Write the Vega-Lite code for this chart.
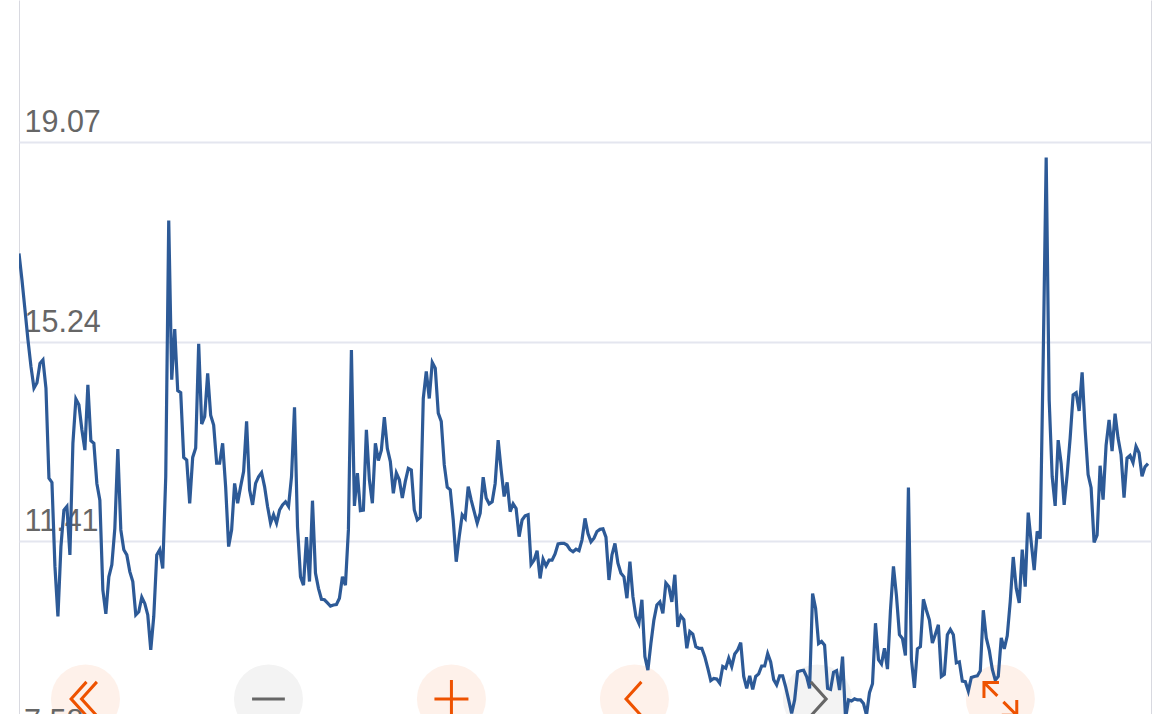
{"$schema":"https://vega.github.io/schema/vega-lite/v6.json","width":1132,"height":714,"autosize":{"type":"none"},"padding":{"left":19,"top":0,"right":19,"bottom":0},"background":"#ffffff","view":{"stroke":null},
"datasets":{"series":[{"t":0,"v":16.93},{"t":1,"v":16.42},{"t":2,"v":15.85},{"t":3,"v":15.27},{"t":4,"v":14.76},{"t":5,"v":14.35},{"t":6,"v":14.45},{"t":7,"v":14.82},{"t":8,"v":14.89},{"t":9,"v":14.35},{"t":10,"v":12.62},{"t":11,"v":12.54},{"t":12,"v":10.93},{"t":13,"v":9.97},{"t":14,"v":11.31},{"t":15,"v":12.01},{"t":16,"v":12.08},{"t":17,"v":11.15},{"t":18,"v":13.29},{"t":19,"v":14.14},{"t":20,"v":14.03},{"t":21,"v":13.55},{"t":22,"v":13.16},{"t":23,"v":14.41},{"t":24,"v":13.34},{"t":25,"v":13.29},{"t":26,"v":12.52},{"t":27,"v":12.2},{"t":28,"v":10.48},{"t":29,"v":10.02},{"t":30,"v":10.73},{"t":31,"v":10.96},{"t":32,"v":11.66},{"t":33,"v":13.18},{"t":34,"v":11.63},{"t":35,"v":11.25},{"t":36,"v":11.15},{"t":37,"v":10.83},{"t":38,"v":10.64},{"t":39,"v":10.0},{"t":40,"v":10.06},{"t":41,"v":10.34},{"t":42,"v":10.22},{"t":43,"v":10.0},{"t":44,"v":9.33},{"t":45,"v":9.97},{"t":46,"v":11.15},{"t":47,"v":11.25},{"t":48,"v":10.89},{"t":49,"v":12.65},{"t":50,"v":17.56},{"t":51,"v":14.51},{"t":52,"v":15.48},{"t":53,"v":14.3},{"t":54,"v":14.26},{"t":55,"v":13.02},{"t":56,"v":12.97},{"t":57,"v":12.14},{"t":58,"v":13.02},{"t":59,"v":13.2},{"t":60,"v":15.2},{"t":61,"v":13.66},{"t":62,"v":13.8},{"t":63,"v":14.63},{"t":64,"v":13.83},{"t":65,"v":13.64},{"t":66,"v":12.91},{"t":67,"v":12.91},{"t":68,"v":13.29},{"t":69,"v":12.46},{"t":70,"v":11.31},{"t":71,"v":11.63},{"t":72,"v":12.52},{"t":73,"v":12.14},{"t":74,"v":12.46},{"t":75,"v":12.75},{"t":76,"v":13.71},{"t":77,"v":12.4},{"t":78,"v":12.11},{"t":79,"v":12.52},{"t":80,"v":12.65},{"t":81,"v":12.73},{"t":82,"v":12.46},{"t":83,"v":12.08},{"t":84,"v":11.76},{"t":85,"v":11.92},{"t":86,"v":11.76},{"t":87,"v":12.01},{"t":88,"v":12.11},{"t":89,"v":12.17},{"t":90,"v":12.08},{"t":91,"v":12.65},{"t":92,"v":13.98},{"t":93,"v":11.69},{"t":94,"v":10.73},{"t":95,"v":10.57},{"t":96,"v":11.49},{"t":97,"v":10.64},{"t":98,"v":12.19},{"t":99,"v":10.8},{"t":100,"v":10.51},{"t":101,"v":10.3},{"t":102,"v":10.29},{"t":103,"v":10.23},{"t":104,"v":10.17},{"t":105,"v":10.19},{"t":106,"v":10.2},{"t":107,"v":10.32},{"t":108,"v":10.73},{"t":109,"v":10.57},{"t":110,"v":11.63},{"t":111,"v":15.08},{"t":112,"v":12.09},{"t":113,"v":12.72},{"t":114,"v":12.0},{"t":115,"v":12.01},{"t":116,"v":13.55},{"t":117,"v":12.59},{"t":118,"v":12.14},{"t":119,"v":13.29},{"t":120,"v":12.96},{"t":121,"v":13.16},{"t":122,"v":13.79},{"t":123,"v":13.19},{"t":124,"v":12.94},{"t":125,"v":12.33},{"t":126,"v":12.72},{"t":127,"v":12.59},{"t":128,"v":12.24},{"t":129,"v":12.56},{"t":130,"v":12.81},{"t":131,"v":12.78},{"t":132,"v":12.01},{"t":133,"v":11.82},{"t":134,"v":11.87},{"t":135,"v":14.15},{"t":136,"v":14.67},{"t":137,"v":14.15},{"t":138,"v":14.84},{"t":139,"v":14.73},{"t":140,"v":13.87},{"t":141,"v":13.71},{"t":142,"v":12.88},{"t":143,"v":12.45},{"t":144,"v":12.4},{"t":145,"v":11.82},{"t":146,"v":11.02},{"t":147,"v":11.5},{"t":148,"v":11.92},{"t":149,"v":11.85},{"t":150,"v":12.46},{"t":151,"v":12.2},{"t":152,"v":11.98},{"t":153,"v":11.76},{"t":154,"v":11.95},{"t":155,"v":12.64},{"t":156,"v":12.24},{"t":157,"v":12.13},{"t":158,"v":12.17},{"t":159,"v":12.52},{"t":160,"v":13.35},{"t":161,"v":12.78},{"t":162,"v":12.27},{"t":163,"v":12.54},{"t":164,"v":11.98},{"t":165,"v":12.13},{"t":166,"v":12.04},{"t":167,"v":11.5},{"t":168,"v":11.82},{"t":169,"v":11.9},{"t":170,"v":11.92},{"t":171,"v":10.97},{"t":172,"v":11.05},{"t":173,"v":11.23},{"t":174,"v":10.7},{"t":175,"v":11.07},{"t":176,"v":10.94},{"t":177,"v":11.05},{"t":178,"v":11.05},{"t":179,"v":11.17},{"t":180,"v":11.36},{"t":181,"v":11.37},{"t":182,"v":11.37},{"t":183,"v":11.34},{"t":184,"v":11.25},{"t":185,"v":11.21},{"t":186,"v":11.26},{"t":187,"v":11.23},{"t":188,"v":11.44},{"t":189,"v":11.85},{"t":190,"v":11.56},{"t":191,"v":11.4},{"t":192,"v":11.47},{"t":193,"v":11.6},{"t":194,"v":11.64},{"t":195,"v":11.65},{"t":196,"v":11.49},{"t":197,"v":10.67},{"t":198,"v":11.15},{"t":199,"v":11.37},{"t":200,"v":10.99},{"t":201,"v":10.8},{"t":202,"v":10.73},{"t":203,"v":10.32},{"t":204,"v":11.02},{"t":205,"v":10.35},{"t":206,"v":9.97},{"t":207,"v":9.84},{"t":208,"v":10.29},{"t":209,"v":9.2},{"t":210,"v":8.94},{"t":211,"v":9.45},{"t":212,"v":9.9},{"t":213,"v":10.19},{"t":214,"v":10.25},{"t":215,"v":10.03},{"t":216,"v":10.61},{"t":217,"v":10.54},{"t":218,"v":10.25},{"t":219,"v":10.77},{"t":220,"v":9.77},{"t":221,"v":9.98},{"t":222,"v":9.91},{"t":223,"v":9.36},{"t":224,"v":9.68},{"t":225,"v":9.63},{"t":226,"v":9.39},{"t":227,"v":9.36},{"t":228,"v":9.36},{"t":229,"v":9.2},{"t":230,"v":8.98},{"t":231,"v":8.74},{"t":232,"v":8.78},{"t":233,"v":8.77},{"t":234,"v":8.69},{"t":235,"v":9.01},{"t":236,"v":8.98},{"t":237,"v":9.17},{"t":238,"v":9.01},{"t":239,"v":9.25},{"t":240,"v":9.33},{"t":241,"v":9.47},{"t":242,"v":8.82},{"t":243,"v":8.59},{"t":244,"v":8.83},{"t":245,"v":8.57},{"t":246,"v":8.82},{"t":247,"v":8.87},{"t":248,"v":9.02},{"t":249,"v":9.02},{"t":250,"v":9.26},{"t":251,"v":9.1},{"t":252,"v":8.76},{"t":253,"v":8.66},{"t":254,"v":8.83},{"t":255,"v":8.83},{"t":256,"v":8.62},{"t":257,"v":8.37},{"t":258,"v":8.11},{"t":259,"v":8.37},{"t":260,"v":8.91},{"t":261,"v":8.93},{"t":262,"v":8.94},{"t":263,"v":8.82},{"t":264,"v":8.59},{"t":265,"v":10.41},{"t":266,"v":10.13},{"t":267,"v":9.45},{"t":268,"v":9.49},{"t":269,"v":9.42},{"t":270,"v":8.59},{"t":271,"v":8.57},{"t":272,"v":8.9},{"t":273,"v":8.93},{"t":274,"v":8.56},{"t":275,"v":9.2},{"t":276,"v":8.02},{"t":277,"v":8.37},{"t":278,"v":8.35},{"t":279,"v":8.39},{"t":280,"v":8.37},{"t":281,"v":8.37},{"t":282,"v":8.3},{"t":283,"v":8.08},{"t":284,"v":8.51},{"t":285,"v":8.68},{"t":286,"v":9.84},{"t":287,"v":9.14},{"t":288,"v":9.06},{"t":289,"v":9.36},{"t":290,"v":8.96},{"t":291,"v":10.09},{"t":292,"v":10.93},{"t":293,"v":10.37},{"t":294,"v":9.62},{"t":295,"v":9.55},{"t":296,"v":9.22},{"t":297,"v":12.44},{"t":298,"v":9.14},{"t":299,"v":8.6},{"t":300,"v":9.35},{"t":301,"v":9.39},{"t":302,"v":10.3},{"t":303,"v":10.09},{"t":304,"v":9.9},{"t":305,"v":9.46},{"t":306,"v":9.63},{"t":307,"v":9.81},{"t":308,"v":8.82},{"t":309,"v":8.86},{"t":310,"v":9.62},{"t":311,"v":9.72},{"t":312,"v":9.62},{"t":313,"v":9.08},{"t":314,"v":9.1},{"t":315,"v":8.73},{"t":316,"v":8.72},{"t":317,"v":8.54},{"t":318,"v":8.8},{"t":319,"v":8.82},{"t":320,"v":8.83},{"t":321,"v":8.93},{"t":322,"v":10.09},{"t":323,"v":9.56},{"t":324,"v":9.32},{"t":325,"v":8.96},{"t":326,"v":8.75},{"t":327,"v":8.82},{"t":328,"v":9.56},{"t":329,"v":9.35},{"t":330,"v":9.6},{"t":331,"v":10.26},{"t":332,"v":11.11},{"t":333,"v":10.51},{"t":334,"v":10.23},{"t":335,"v":11.25},{"t":336,"v":10.54},{"t":337,"v":11.96},{"t":338,"v":11.39},{"t":339,"v":10.86},{"t":340,"v":11.6},{"t":341,"v":11.46},{"t":342,"v":14.9},{"t":343,"v":18.77},{"t":344,"v":14.12},{"t":345,"v":12.65},{"t":346,"v":12.09},{"t":347,"v":13.35},{"t":348,"v":12.9},{"t":349,"v":12.11},{"t":350,"v":12.69},{"t":351,"v":13.39},{"t":352,"v":14.22},{"t":353,"v":14.26},{"t":354,"v":13.91},{"t":355,"v":14.65},{"t":356,"v":13.56},{"t":357,"v":12.69},{"t":358,"v":12.44},{"t":359,"v":11.39},{"t":360,"v":11.53},{"t":361,"v":12.86},{"t":362,"v":12.21},{"t":363,"v":13.25},{"t":364,"v":13.74},{"t":365,"v":13.14},{"t":366,"v":13.86},{"t":367,"v":13.39},{"t":368,"v":13.07},{"t":369,"v":12.25},{"t":370,"v":13.01},{"t":371,"v":13.06},{"t":372,"v":12.92},{"t":373,"v":13.23},{"t":374,"v":13.11},{"t":375,"v":12.66},{"t":376,"v":12.84},{"t":377,"v":12.9}],
"buttons":[{"button":"first","t":22.2,"v":8.39},{"button":"minus","t":83.3,"v":8.39},{"button":"plus","t":144.4,"v":8.39},{"button":"prev","t":205.5,"v":8.39},{"button":"next","t":266.6,"v":8.39},{"button":"expand","t":327.7,"v":8.39}],
"lowTick":[{"t":0,"v":7.58,"label":"7.58"}]},
"layer":[
{"data":{"name":"buttons"},"mark":{"type":"point","shape":"circle","filled":true,"size":4761,"opacity":1,"strokeWidth":0},
"encoding":{"x":{"field":"t","type":"quantitative","scale":{"domain":[0,378],"nice":false,"zero":false},"axis":{"values":[0,378],"title":null,"labels":false,"ticks":false,"domain":false,"grid":true,"gridColor":"#d8d9e0","gridWidth":1}},
"y":{"field":"v","type":"quantitative","scale":{"domain":[8.1,21.79],"nice":false,"zero":false},"axis":{"values":[19.07,15.24,11.41],"title":null,"format":".2f","domain":false,"ticks":false,"grid":true,"gridColor":"#e4e6ef","gridWidth":2,"labelAlign":"left","labelBaseline":"alphabetic","labelPadding":-5,"labelOffset":-10.5,"labelFontSize":30.5,"labelFont":"Liberation Sans","labelColor":"#666666"}},
"fill":{"field":"button","type":"nominal","legend":null,"scale":{"domain":["first","minus","plus","prev","next","expand"],"range":["#fef1ea","#f3f3f3","#fef1ea","#fef1ea","#f3f3f3","#fef1ea"]}}}},
{"data":{"name":"lowTick"},"mark":{"type":"text","align":"left","baseline":"alphabetic","dx":5,"dy":-10.5,"fontSize":30.5,"font":"Liberation Sans","color":"#666666","clip":false},
"encoding":{"x":{"field":"t","type":"quantitative"},"y":{"field":"v","type":"quantitative"},"text":{"field":"label","type":"nominal"}}},
{"data":{"name":"series"},"mark":{"type":"line","color":"#2d5a97","strokeWidth":3.2,"strokeJoin":"miter","clip":true,"interpolate":"linear"},
"encoding":{"x":{"field":"t","type":"quantitative"},"y":{"field":"v","type":"quantitative"}}},
{"data":{"name":"buttons"},"mark":{"type":"point","filled":false,"size":1600,"opacity":1,"strokeWidth":3},
"encoding":{"x":{"field":"t","type":"quantitative"},"y":{"field":"v","type":"quantitative"},
"shape":{"field":"button","type":"nominal","legend":null,"scale":{"domain":["first","minus","plus","prev","next","expand"],"range":["M.05 -.85L-.72 0L.05 .85M.57 -.85L-.2 0L.57 .85","M-.82 0L.82 0","M-.85 0L.85 0M0 -.95L0 .95","M.35 -.85L-.42 0L.35 .85","M-.33 -.85L.44 0L-.33 .85","M-.82 -.05L-.82 -.82L-.07 -.82M-.82 -.82L-.15 -.15M.82 .05L.82 .82L.07 .82M.82 .82L.15 .15"]}},
"stroke":{"field":"button","type":"nominal","legend":null,"scale":{"domain":["first","minus","plus","prev","next","expand"],"range":["#ee5200","#666666","#ee5200","#ee5200","#666666","#ee5200"]}}}}
],
"resolve":{"scale":{"fill":"independent"}}}
